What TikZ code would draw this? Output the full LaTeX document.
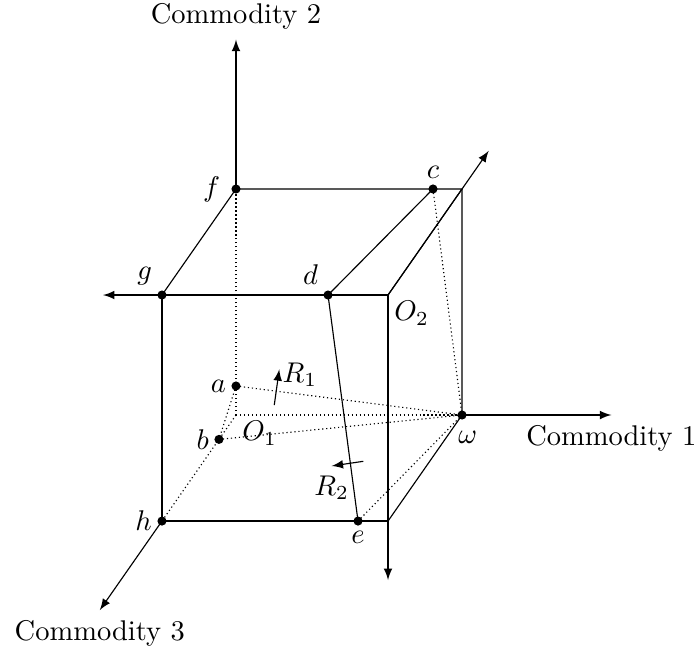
\documentclass[tikz,border=0pt]{standalone}
\usetikzlibrary{arrows}
\usetikzlibrary{math}

\begin{document}
\begin{tikzpicture}[scale=1]

\tikzmath{
\a = 2.788; %cube edge
\dpx = -0.913; %depth direction
\dpy = -1.308;
\L = 4.63; %axes at O1
\Lt = 1.84; %third axis, in depths
\M = 3.515; %axes at O2
\Mt = 1.36;
\rd = 1.6; %radius of dots, pt
}

\useasboundingbox (-2.911,-3.022) rectangle (5.711,5.119);

%corners of the box
\coordinate (O1) at (0,0);
\coordinate (w) at (\a,0);
\coordinate (f) at (0,\a);
\coordinate (t) at (\a,\a);
\coordinate (h) at (\dpx,\dpy);
\coordinate (g) at (\dpx,\a+\dpy);
\coordinate (O2) at (\a+\dpx,\a+\dpy);
\coordinate (r) at (\a+\dpx,\dpy);
%ends of the axes
\coordinate (C1) at (\L,0);
\coordinate (C2) at (0,\L);
\coordinate (C3) at (\Lt*\dpx,\Lt*\dpy);
\coordinate (E1) at (\a+\dpx-\M,\a+\dpy);
\coordinate (E2) at (\a+\dpx,\a+\dpy-\M);
\coordinate (E3) at (\a+\dpx-\Mt*\dpx,\a+\dpy-\Mt*\dpy);
%points
\coordinate (pa) at (0,0.358);
\coordinate (pb) at (0.23*\dpx,0.23*\dpy);
\coordinate (pc) at (2.43,\a);
\coordinate (pd) at (1.135,\a+\dpy);
\coordinate (pe) at (1.505,\dpy);
%arrows R
\coordinate (R1s) at (0.472,0.123);
\coordinate (R1e) at (0.534,0.564);
\coordinate (R2s) at (1.570,-0.571);
\coordinate (R2e) at (1.180,-0.629);

%axes at O1:
\draw[densely dotted] (O1) -- (w);
\draw[densely dotted] (O1) -- (f);
\draw[densely dotted] (O1) -- (h);
\draw[-latex] (w) -- (C1) node[below] (n1) {Commodity 1};
\draw[-latex] (f) -- (C2) node[above] (n2) {Commodity 2};
\draw[-latex] (h) -- (C3) node[below] (n3) {Commodity 3};
%axes at O2:
\draw[-latex] (O2) -- (E1);
\draw[-latex] (O2) -- (E2);
\draw[-latex] (O2) -- (E3);

%box
\draw (g) -- (O2) -- (r) -- (h) -- cycle;
\draw (g) -- (f) -- (t) -- (O2);
\draw (t) -- (w) -- (r);

%contract curve and budget lines
\draw (pc) -- (pd);
\draw (pd) -- (pe);
\draw[densely dotted] (pa) -- (w);
\draw[densely dotted] (pb) -- (w);
\draw[densely dotted] (pa) -- (pb);
\draw[densely dotted] (pc) -- (w);
\draw[densely dotted] (pe) -- (w);

\draw[-latex] (R1s) -- (R1e) node[right,inner sep=1pt,yshift=-2pt] (nR1) {$R_1$};
\draw[-latex] (R2s) -- (R2e) node[below] (nR2) {$R_2$};

%dots
\fill (pa) circle(\rd pt);
\fill (pb) circle(\rd pt);
\fill (pc) circle(\rd pt);
\fill (pd) circle(\rd pt);
\fill (pe) circle(\rd pt);
\fill (f) circle(\rd pt);
\fill (g) circle(\rd pt);
\fill (h) circle(\rd pt);
\fill (w) circle(\rd pt);

%labels
\node[left,xshift=-2pt] (lf) at (f) {$f$};
\node[above left] (lg) at (g) {$g$};
\node[above left] (ld) at (pd) {$d$};
\node[above] (lc) at (pc) {$c$};
\node[left] (la) at (pa) {$a$};
\node[left] (lb) at (pb) {$b$};
\node[left] (lh) at (h) {$h$};
\node[below] (le) at (pe) {$e$};
\node[below right,inner sep=2pt] (lO1) at (O1) {$O_1$};
\node[below right,inner sep=2pt] (lO2) at (O2) {$O_2$};
\node[below,xshift=2pt,yshift=-2pt] (lw) at (w) {$\omega$};

\end{tikzpicture}
\end{document}
